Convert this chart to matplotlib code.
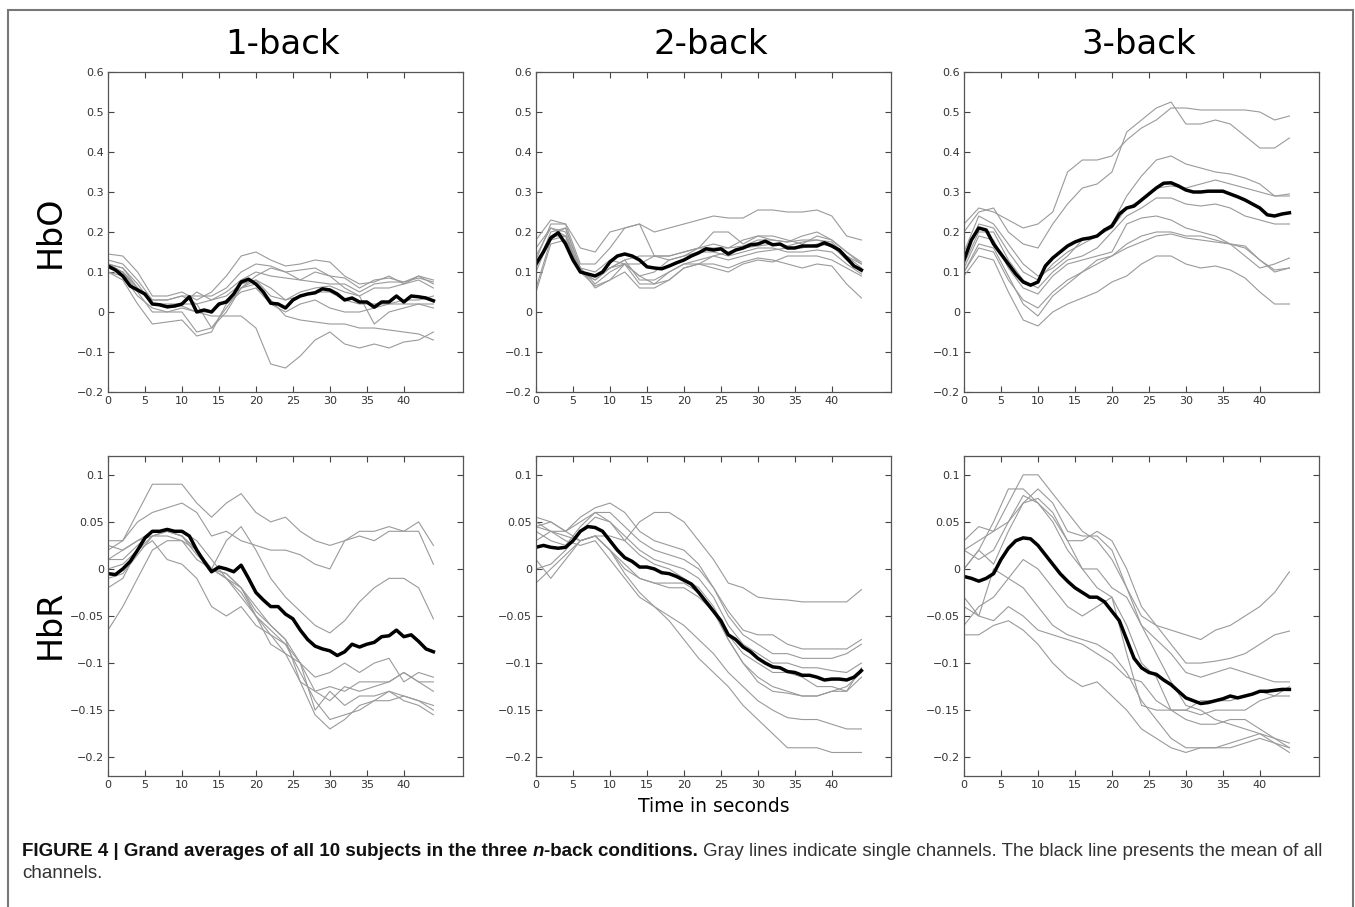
import numpy as np
import matplotlib.pyplot as plt
from matplotlib.patches import Rectangle
from matplotlib.ticker import FuncFormatter

# time axes (seconds): mean traces read every 1 s, single channels every 2 s
t_mean = np.arange(0, 45, 1)
t_chan = np.arange(0, 45, 2)

conditions = ["1-back", "2-back", "3-back"]
signals = ["HbO", "HbR"]

# ---------------- HbO ----------------
hbo_1back_mean = [0.115, 0.105, 0.09, 0.065, 0.055, 0.045, 0.02, 0.018, 0.013, 0.015,
                  0.02, 0.038, 0.0, 0.005, 0.0, 0.02, 0.025, 0.045, 0.075, 0.082,
                  0.07, 0.05, 0.022, 0.02, 0.01, 0.03, 0.04, 0.045, 0.048, 0.058,
                  0.055, 0.045, 0.03, 0.035, 0.025, 0.025, 0.012, 0.025, 0.025, 0.04,
                  0.025, 0.04, 0.038, 0.035, 0.028]
hbo_1back_chan = [
    [0.145, 0.14, 0.10, 0.04, 0.04, 0.05, 0.03, 0.05, 0.09, 0.14, 0.15, 0.13, 0.115, 0.12, 0.13, 0.125, 0.09, 0.07, 0.075, 0.09, 0.07, 0.09, 0.08],
    [0.13, 0.12, 0.08, 0.03, 0.03, 0.04, 0.04, 0.04, 0.06, 0.10, 0.12, 0.115, 0.10, 0.105, 0.11, 0.09, 0.085, 0.06, 0.08, 0.085, 0.075, 0.085, 0.075],
    [0.12, 0.11, 0.07, 0.02, 0.02, 0.02, 0.05, 0.03, 0.05, 0.08, 0.10, 0.09, 0.085, 0.08, 0.075, 0.07, 0.07, 0.05, 0.07, 0.075, 0.075, 0.09, 0.07],
    [0.10, 0.09, 0.04, 0.01, 0.0, 0.01, 0.0, -0.01, -0.01, -0.01, -0.04, -0.13, -0.14, -0.11, -0.07, -0.05, -0.08, -0.09, -0.08, -0.09, -0.075, -0.07, -0.05],
    [0.11, 0.10, 0.05, 0.0, 0.0, 0.0, -0.05, -0.04, 0.0, 0.06, 0.07, 0.03, -0.01, -0.02, -0.025, -0.03, -0.03, -0.04, -0.04, -0.045, -0.05, -0.055, -0.07],
    [0.10, 0.08, 0.02, -0.03, -0.025, -0.02, -0.06, -0.05, 0.02, 0.05, 0.06, 0.02, 0.0, 0.02, 0.03, 0.01, 0.0, 0.0, 0.01, 0.02, 0.03, 0.03, 0.04],
    [0.12, 0.10, 0.06, 0.02, 0.015, 0.02, 0.02, -0.04, 0.01, 0.06, 0.08, 0.04, 0.03, 0.05, 0.06, 0.065, 0.05, 0.04, -0.03, 0.0, 0.01, 0.02, 0.02],
    [0.11, 0.10, 0.06, 0.02, 0.01, 0.015, 0.0, 0.0, 0.03, 0.06, 0.09, 0.11, 0.10, 0.08, 0.10, 0.09, 0.06, 0.04, 0.06, 0.06, 0.07, 0.08, 0.06],
    [0.12, 0.11, 0.06, 0.03, 0.03, 0.04, 0.02, 0.03, 0.04, 0.07, 0.08, 0.06, 0.03, 0.04, 0.05, 0.05, 0.03, 0.02, 0.02, 0.02, 0.02, 0.02, 0.01],
]

hbo_2back_mean = [0.12, 0.15, 0.185, 0.198, 0.17, 0.13, 0.10, 0.095, 0.09, 0.10,
                  0.125, 0.14, 0.145, 0.14, 0.13, 0.113, 0.11, 0.108, 0.115, 0.123,
                  0.13, 0.14, 0.148, 0.158, 0.155, 0.158, 0.145, 0.155, 0.16, 0.168,
                  0.17, 0.177, 0.168, 0.17, 0.16, 0.16, 0.165, 0.165, 0.165, 0.173,
                  0.165, 0.155, 0.135, 0.115, 0.105]
hbo_2back_chan = [
    [0.18, 0.23, 0.22, 0.16, 0.15, 0.20, 0.21, 0.22, 0.20, 0.21, 0.22, 0.23, 0.24, 0.235, 0.235, 0.255, 0.255, 0.25, 0.25, 0.255, 0.24, 0.19, 0.18],
    [0.13, 0.22, 0.22, 0.12, 0.12, 0.16, 0.21, 0.22, 0.14, 0.13, 0.14, 0.16, 0.20, 0.20, 0.17, 0.19, 0.19, 0.18, 0.17, 0.19, 0.18, 0.15, 0.12],
    [0.10, 0.19, 0.21, 0.11, 0.07, 0.10, 0.12, 0.12, 0.14, 0.14, 0.15, 0.16, 0.16, 0.16, 0.165, 0.18, 0.18, 0.175, 0.18, 0.18, 0.175, 0.14, 0.11],
    [0.06, 0.18, 0.19, 0.10, 0.065, 0.08, 0.12, 0.09, 0.07, 0.08, 0.11, 0.12, 0.12, 0.11, 0.125, 0.135, 0.13, 0.12, 0.11, 0.12, 0.115, 0.07, 0.035],
    [0.05, 0.17, 0.18, 0.11, 0.06, 0.08, 0.10, 0.06, 0.06, 0.08, 0.11, 0.12, 0.11, 0.10, 0.12, 0.13, 0.125, 0.14, 0.14, 0.14, 0.13, 0.11, 0.09],
    [0.14, 0.21, 0.20, 0.10, 0.08, 0.11, 0.13, 0.08, 0.08, 0.10, 0.12, 0.12, 0.14, 0.13, 0.14, 0.15, 0.155, 0.16, 0.16, 0.17, 0.165, 0.13, 0.10],
    [0.12, 0.19, 0.19, 0.10, 0.08, 0.11, 0.12, 0.09, 0.10, 0.13, 0.14, 0.15, 0.15, 0.14, 0.15, 0.16, 0.16, 0.15, 0.15, 0.155, 0.15, 0.12, 0.095],
    [0.11, 0.20, 0.21, 0.11, 0.10, 0.13, 0.12, 0.07, 0.07, 0.10, 0.12, 0.13, 0.14, 0.15, 0.16, 0.165, 0.17, 0.165, 0.175, 0.18, 0.17, 0.14, 0.12],
    [0.16, 0.21, 0.19, 0.10, 0.09, 0.11, 0.13, 0.14, 0.14, 0.14, 0.15, 0.16, 0.17, 0.16, 0.18, 0.19, 0.18, 0.175, 0.19, 0.20, 0.18, 0.15, 0.125],
]

hbo_3back_mean = [0.13, 0.18, 0.21, 0.205, 0.17, 0.145, 0.12, 0.095, 0.075, 0.067,
                  0.075, 0.115, 0.135, 0.15, 0.165, 0.175, 0.182, 0.185, 0.19, 0.205,
                  0.215, 0.245, 0.26, 0.265, 0.28, 0.295, 0.31, 0.322, 0.323, 0.315,
                  0.305, 0.30, 0.30, 0.302, 0.302, 0.302, 0.295, 0.288, 0.28, 0.27,
                  0.26, 0.243, 0.24, 0.245, 0.248]
hbo_3back_chan = [
    [0.22, 0.26, 0.25, 0.23, 0.21, 0.22, 0.25, 0.35, 0.38, 0.38, 0.39, 0.43, 0.46, 0.48, 0.51, 0.51, 0.505, 0.505, 0.505, 0.505, 0.50, 0.48, 0.49],
    [0.20, 0.25, 0.26, 0.20, 0.17, 0.16, 0.22, 0.27, 0.31, 0.32, 0.35, 0.45, 0.48, 0.51, 0.525, 0.47, 0.47, 0.48, 0.47, 0.44, 0.41, 0.41, 0.435],
    [0.15, 0.24, 0.22, 0.17, 0.12, 0.09, 0.11, 0.14, 0.18, 0.19, 0.22, 0.29, 0.34, 0.38, 0.39, 0.37, 0.36, 0.35, 0.345, 0.335, 0.32, 0.29, 0.295],
    [0.14, 0.22, 0.21, 0.15, 0.10, 0.08, 0.12, 0.15, 0.17, 0.19, 0.21, 0.26, 0.28, 0.31, 0.315, 0.31, 0.32, 0.33, 0.32, 0.31, 0.30, 0.29, 0.29],
    [0.12, 0.20, 0.20, 0.13, 0.08, 0.06, 0.10, 0.13, 0.14, 0.16, 0.20, 0.24, 0.26, 0.285, 0.285, 0.27, 0.265, 0.27, 0.26, 0.24, 0.23, 0.22, 0.22],
    [0.11, 0.19, 0.18, 0.11, 0.06, 0.045, 0.09, 0.12, 0.13, 0.14, 0.15, 0.22, 0.235, 0.24, 0.23, 0.21, 0.20, 0.19, 0.17, 0.14, 0.11, 0.12, 0.135],
    [0.10, 0.16, 0.15, 0.08, 0.03, 0.01, 0.05, 0.08, 0.10, 0.13, 0.14, 0.16, 0.175, 0.19, 0.195, 0.185, 0.18, 0.175, 0.17, 0.16, 0.13, 0.105, 0.11],
    [0.09, 0.14, 0.13, 0.05, -0.02, -0.035, 0.0, 0.02, 0.035, 0.05, 0.075, 0.09, 0.12, 0.14, 0.14, 0.12, 0.11, 0.115, 0.105, 0.085, 0.05, 0.02, 0.02],
    [0.10, 0.17, 0.16, 0.09, 0.02, -0.01, 0.04, 0.07, 0.10, 0.12, 0.14, 0.17, 0.19, 0.20, 0.20, 0.19, 0.19, 0.18, 0.17, 0.165, 0.13, 0.10, 0.11],
]

# ---------------- HbR ----------------
hbr_1back_mean = [-0.005, -0.006, 0.0, 0.008, 0.02, 0.033, 0.04, 0.04, 0.042, 0.04,
                  0.04, 0.035, 0.02, 0.008, -0.003, 0.002, 0.0, -0.003, 0.004, -0.01,
                  -0.025, -0.033, -0.04, -0.04, -0.048, -0.053, -0.065, -0.075, -0.082, -0.085,
                  -0.087, -0.092, -0.088, -0.08, -0.083, -0.08, -0.078, -0.072, -0.071, -0.065,
                  -0.072, -0.07, -0.077, -0.085, -0.088]
hbr_1back_chan = [
    [0.03, 0.03, 0.06, 0.09, 0.09, 0.09, 0.07, 0.055, 0.07, 0.08, 0.06, 0.05, 0.055, 0.04, 0.03, 0.025, 0.03, 0.04, 0.04, 0.045, 0.04, 0.05, 0.025],
    [0.02, 0.03, 0.05, 0.06, 0.065, 0.07, 0.06, 0.035, 0.04, 0.03, 0.025, 0.02, 0.02, 0.015, 0.005, 0.0, 0.03, 0.035, 0.03, 0.04, 0.04, 0.04, 0.005],
    [0.01, 0.02, 0.03, 0.035, 0.035, 0.03, 0.01, 0.0, 0.03, 0.045, 0.02, -0.01, -0.03, -0.045, -0.06, -0.068, -0.055, -0.035, -0.02, -0.01, -0.01, -0.02, -0.053],
    [-0.065, -0.04, -0.01, 0.02, 0.03, 0.03, 0.02, 0.0, -0.01, -0.02, -0.05, -0.08, -0.09, -0.10, -0.115, -0.11, -0.10, -0.11, -0.10, -0.095, -0.12, -0.11, -0.115],
    [-0.02, -0.01, 0.02, 0.03, 0.01, 0.005, -0.01, -0.04, -0.05, -0.04, -0.06, -0.07, -0.09, -0.12, -0.13, -0.125, -0.13, -0.12, -0.12, -0.12, -0.11, -0.12, -0.13],
    [0.0, 0.005, 0.02, 0.035, 0.04, 0.035, 0.02, 0.0, -0.01, -0.03, -0.05, -0.07, -0.08, -0.10, -0.15, -0.13, -0.145, -0.135, -0.135, -0.13, -0.135, -0.14, -0.15],
    [0.01, 0.01, 0.025, 0.04, 0.04, 0.04, 0.03, 0.01, -0.01, -0.025, -0.05, -0.065, -0.08, -0.11, -0.14, -0.16, -0.155, -0.15, -0.14, -0.14, -0.135, -0.14, -0.145],
    [-0.01, -0.005, 0.015, 0.035, 0.04, 0.035, 0.02, 0.0, -0.005, -0.02, -0.045, -0.06, -0.075, -0.12, -0.155, -0.17, -0.16, -0.145, -0.14, -0.13, -0.14, -0.145, -0.155],
    [0.025, 0.02, 0.03, 0.04, 0.04, 0.035, 0.015, 0.0, -0.005, -0.02, -0.04, -0.06, -0.075, -0.10, -0.13, -0.14, -0.125, -0.13, -0.125, -0.12, -0.11, -0.12, -0.12],
]

hbr_2back_mean = [0.023, 0.025, 0.023, 0.022, 0.023, 0.03, 0.04, 0.045, 0.044, 0.04,
                  0.03, 0.02, 0.012, 0.008, 0.002, 0.002, 0.0, -0.004, -0.005, -0.008,
                  -0.012, -0.016, -0.025, -0.035, -0.045, -0.055, -0.07, -0.075, -0.083, -0.088,
                  -0.095, -0.10, -0.104, -0.105, -0.109, -0.11, -0.113, -0.113, -0.115, -0.118,
                  -0.117, -0.117, -0.118, -0.115, -0.108]
hbr_2back_chan = [
    [0.05, 0.04, 0.04, 0.03, 0.035, 0.035, 0.03, 0.05, 0.06, 0.06, 0.05, 0.03, 0.01, -0.015, -0.02, -0.03, -0.032, -0.033, -0.035, -0.035, -0.035, -0.035, -0.022],
    [0.055, 0.05, 0.04, 0.055, 0.065, 0.07, 0.06, 0.04, 0.03, 0.025, 0.02, 0.005, -0.02, -0.045, -0.065, -0.07, -0.07, -0.08, -0.085, -0.085, -0.085, -0.085, -0.075],
    [0.045, 0.05, 0.04, 0.05, 0.06, 0.06, 0.045, 0.03, 0.02, 0.015, 0.01, 0.0, -0.02, -0.05, -0.07, -0.08, -0.09, -0.09, -0.095, -0.095, -0.095, -0.09, -0.08],
    [0.04, 0.03, 0.025, 0.045, 0.06, 0.05, 0.035, 0.02, 0.01, 0.005, 0.0, -0.01, -0.03, -0.06, -0.08, -0.09, -0.10, -0.10, -0.105, -0.105, -0.108, -0.11, -0.10],
    [0.0, 0.005, 0.02, 0.04, 0.055, 0.05, 0.03, 0.015, 0.005, 0.0, -0.01, -0.02, -0.04, -0.07, -0.09, -0.10, -0.11, -0.11, -0.115, -0.125, -0.125, -0.13, -0.115],
    [-0.015, 0.0, 0.015, 0.03, 0.035, 0.02, 0.005, -0.01, -0.015, -0.015, -0.015, -0.025, -0.045, -0.075, -0.10, -0.12, -0.13, -0.132, -0.135, -0.135, -0.13, -0.125, -0.11],
    [0.01, -0.01, 0.01, 0.03, 0.035, 0.02, 0.0, -0.01, -0.015, -0.02, -0.02, -0.03, -0.045, -0.075, -0.10, -0.115, -0.125, -0.13, -0.135, -0.135, -0.13, -0.13, -0.105],
    [0.045, 0.04, 0.03, 0.025, 0.03, 0.01, -0.01, -0.03, -0.04, -0.05, -0.06, -0.075, -0.09, -0.11, -0.125, -0.14, -0.15, -0.158, -0.16, -0.16, -0.165, -0.17, -0.17],
    [0.03, 0.04, 0.035, 0.03, 0.035, 0.02, -0.005, -0.025, -0.04, -0.055, -0.075, -0.095, -0.11, -0.125, -0.145, -0.16, -0.175, -0.19, -0.19, -0.19, -0.195, -0.195, -0.195],
]

hbr_3back_mean = [-0.008, -0.01, -0.013, -0.01, -0.005, 0.01, 0.022, 0.03, 0.033, 0.032,
                  0.025, 0.015, 0.005, -0.005, -0.013, -0.02, -0.025, -0.03, -0.03, -0.035,
                  -0.045, -0.055, -0.075, -0.095, -0.105, -0.11, -0.112, -0.118, -0.123, -0.13,
                  -0.137, -0.14, -0.143, -0.142, -0.14, -0.138, -0.135, -0.137, -0.135, -0.133,
                  -0.13, -0.13, -0.129, -0.128, -0.128]
hbr_3back_chan = [
    [0.02, 0.03, 0.04, 0.07, 0.10, 0.10, 0.08, 0.06, 0.04, 0.03, 0.01, -0.02, -0.06, -0.09, -0.12, -0.145, -0.15, -0.16, -0.165, -0.17, -0.175, -0.18, -0.19],
    [0.0, 0.02, 0.05, 0.085, 0.085, 0.07, 0.055, 0.03, 0.0, -0.02, -0.03, -0.06, -0.10, -0.115, -0.15, -0.15, -0.155, -0.15, -0.15, -0.15, -0.14, -0.135, -0.125],
    [0.03, 0.045, 0.04, 0.05, 0.07, 0.085, 0.07, 0.04, 0.035, 0.035, 0.02, -0.02, -0.05, -0.06, -0.065, -0.07, -0.075, -0.065, -0.06, -0.05, -0.04, -0.025, -0.003],
    [0.0, 0.02, 0.005, 0.04, 0.07, 0.075, 0.06, 0.03, 0.03, 0.04, 0.03, 0.0, -0.04, -0.06, -0.08, -0.10, -0.10, -0.098, -0.095, -0.09, -0.08, -0.07, -0.066],
    [0.02, 0.01, 0.02, 0.05, 0.078, 0.07, 0.05, 0.02, 0.0, 0.0, -0.02, -0.03, -0.06, -0.075, -0.09, -0.11, -0.115, -0.11, -0.105, -0.11, -0.115, -0.12, -0.12],
    [-0.06, -0.04, -0.03, -0.01, 0.01, 0.0, -0.02, -0.04, -0.05, -0.04, -0.03, -0.09, -0.145, -0.15, -0.15, -0.15, -0.14, -0.14, -0.14, -0.135, -0.13, -0.135, -0.135],
    [-0.07, -0.07, -0.06, -0.055, -0.065, -0.08, -0.10, -0.115, -0.125, -0.12, -0.135, -0.15, -0.17, -0.18, -0.19, -0.195, -0.19, -0.19, -0.19, -0.185, -0.18, -0.185, -0.195],
    [-0.04, -0.05, 0.0, -0.01, -0.02, -0.04, -0.06, -0.07, -0.075, -0.08, -0.09, -0.11, -0.14, -0.16, -0.18, -0.19, -0.19, -0.19, -0.185, -0.18, -0.175, -0.185, -0.19],
    [-0.03, -0.05, -0.055, -0.04, -0.05, -0.065, -0.07, -0.075, -0.08, -0.09, -0.10, -0.115, -0.12, -0.14, -0.15, -0.16, -0.165, -0.165, -0.16, -0.16, -0.17, -0.18, -0.185],
]

hbo_yticks = [-0.2, -0.1, 0, 0.1, 0.2, 0.3, 0.4, 0.5, 0.6]
hbr_yticks = [-0.2, -0.15, -0.1, -0.05, 0, 0.05, 0.1]
xticks = [0, 5, 10, 15, 20, 25, 30, 35, 40]

panels = [
    [(hbo_1back_mean, hbo_1back_chan), (hbo_2back_mean, hbo_2back_chan), (hbo_3back_mean, hbo_3back_chan)],
    [(hbr_1back_mean, hbr_1back_chan), (hbr_2back_mean, hbr_2back_chan), (hbr_3back_mean, hbr_3back_chan)],
]

W, H = 1355, 907
fig = plt.figure(figsize=(W / 100, H / 100), dpi=100)

# axes boxes in pixels
lefts = [108, 536, 964]
tops = [72, 456]
aw, ah = 355, 320
row_label_y = [232, 624]

fmt = FuncFormatter(lambda v, p: ('%g' % round(v, 3)).replace('-', '\u2212'))

for r in range(2):
    for c in range(3):
        ax = fig.add_axes([lefts[c] / W, 1 - (tops[r] + ah) / H, aw / W, ah / H])
        mean, chans = panels[r][c]
        for ch in chans:
            ax.plot(t_chan, ch, color='#9a9a9a', lw=0.8)
        ax.plot(t_mean, mean, color='black', lw=2.5)
        ax.set_xlim(0, 48)
        if r == 0:
            ax.set_ylim(-0.2, 0.6)
            ax.set_yticks(hbo_yticks)
        else:
            ax.set_ylim(-0.22, 0.12)
            ax.set_yticks(hbr_yticks)
        ax.set_xticks(xticks)
        ax.yaxis.set_major_formatter(fmt)
        ax.tick_params(direction='in', top=True, right=True, length=4, width=0.8,
                       labelsize=8, labelcolor='#333333', color='#444444', pad=3)
        for s in ax.spines.values():
            s.set_color('#555555')
            s.set_linewidth(0.9)
        if r == 0:
            fig.text((lefts[c] + aw / 2 - 3) / W, 1 - 45 / H, conditions[c],
                     fontsize=24.5, ha='center', va='center')
        if c == 0:
            fig.text(50 / W, 1 - row_label_y[r] / H, signals[r],
                     fontsize=24, rotation=90, ha='center', va='center')
        if r == 1 and c == 1:
            ax.set_xlabel("Time in seconds", fontsize=13.5, labelpad=5)

# outer frame (open at the bottom, as in the page crop)
fig.patches.append(Rectangle((8 / W, 1 - 915 / H), 1345 / W, 905 / H, transform=fig.transFigure,
                             fill=False, edgecolor='#777777', lw=1.5))

cap_font = ['Liberation Sans Narrow', 'Liberation Sans', 'DejaVu Sans']
cap_size = 13.5
y1 = 1 - 851 / H
t1 = fig.text(22 / W, y1, "FIGURE 4 | Grand averages of all 10 subjects in the three ",
              fontsize=cap_size, fontweight='bold', family=cap_font, va='center', color='#111111')
renderer = fig.canvas.get_renderer()
x = t1.get_window_extent(renderer).x1
t2 = fig.text(x / W, y1, "n", fontsize=cap_size, fontweight='bold', style='italic',
              family=cap_font, va='center', color='#111111')
x = t2.get_window_extent(renderer).x1
t3 = fig.text(x / W, y1, "-back conditions.", fontsize=cap_size, fontweight='bold',
              family=cap_font, va='center', color='#111111')
x = t3.get_window_extent(renderer).x1
fig.text(x / W + 0.004, y1, "Gray lines indicate single channels. The black line presents the mean of all",
         fontsize=cap_size, family=cap_font, va='center', color='#333333')
fig.text(22 / W, 1 - 873 / H, "channels.", fontsize=cap_size, family=cap_font, va='center', color='#333333')

fig.savefig("out.png", dpi=100)
